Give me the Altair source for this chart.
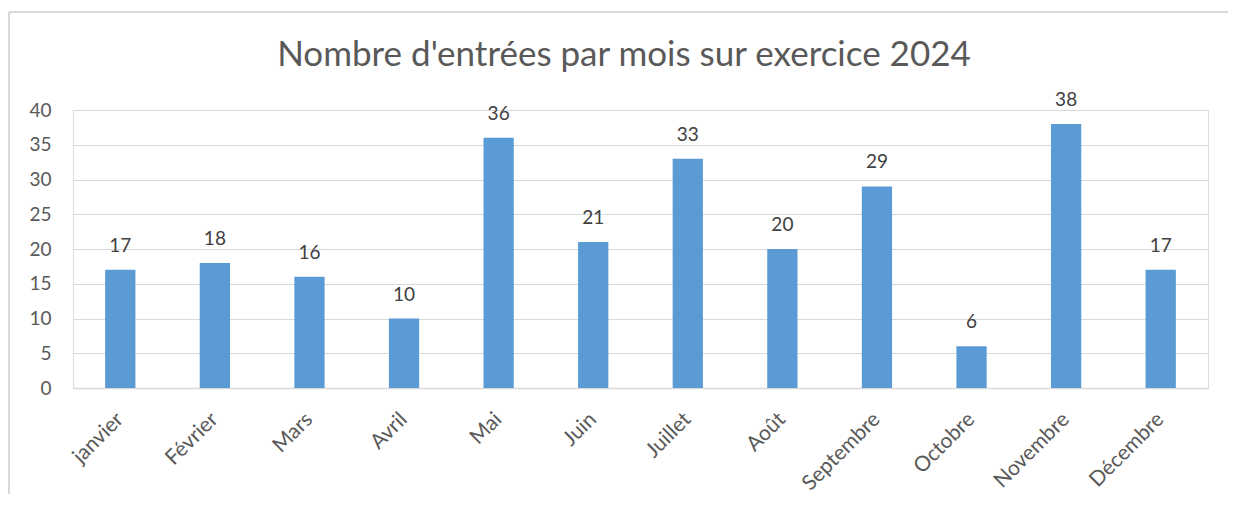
import altair as alt
import pandas as pd

months = ["janvier", "Février", "Mars", "Avril", "Mai", "Juin", "Juillet",
          "Août", "Septembre", "Octobre", "Novembre", "Décembre"]
entries = [17, 18, 16, 10, 36, 21, 33, 20, 29, 6, 38, 17]
y_ticks = [0, 5, 10, 15, 20, 25, 30, 35, 40]
title_text = "Nombre d'entrées par mois sur exercice 2024"

df = pd.DataFrame({"mois": months, "entrees": entries})

FONT = "Lato"
GREY = "#595959"
LINE = "#d9d9d9"

x_enc = alt.X("mois:N", sort=months, title=None,
              scale=alt.Scale(paddingInner=0.68, paddingOuter=0.34),
              axis=alt.Axis(labelAngle=-45, labelFontSize=21, labelColor=GREY,
                            labelFont=FONT, ticks=False, domainColor=LINE,
                            labelAlign="right", labelBaseline="middle",
                            domainWidth=1.5, labelPadding=28, grid=False))
y_enc = alt.Y("entrees:Q", title=None,
              scale=alt.Scale(domain=[0, 40], nice=False),
              axis=alt.Axis(values=y_ticks, labelFontSize=19, labelColor=GREY,
                            labelFont=FONT, ticks=False, domain=False,
                            labelOverlap=False, tickCount=9,
                            gridColor=LINE, gridWidth=1.2, labelPadding=22))

bars = alt.Chart(df).mark_bar(color="#5B9BD5").encode(x=x_enc, y=y_enc)
labels = alt.Chart(df).mark_text(baseline="bottom", dy=-14, fontSize=19,
                                 font=FONT, color="#404040").encode(
    x=alt.X("mois:N", sort=months), y=y_enc, text="entrees:Q")

top_edge = alt.Chart(df).mark_rule(stroke=LINE, strokeWidth=1.5).encode(
    x=alt.value(-64), x2=alt.value(1200), y=alt.value(-98))
left_edge = alt.Chart(df).mark_rule(stroke=LINE, strokeWidth=1.5).encode(
    x=alt.value(-64), y=alt.value(-98), y2=alt.value(600))

title = alt.Chart(pd.DataFrame({"t": [title_text]})).mark_text(
    fontSize=35, font=FONT, color=GREY, baseline="alphabetic", align="center").encode(
    x=alt.value(551), y=alt.value(-44), text="t:N")

chart = alt.layer(top_edge, left_edge, bars, labels, title).properties(
    width=1135, height=278,
    autosize=alt.AutoSizeParams(type="none"),
    padding={"left": 65, "top": 102, "right": 20, "bottom": 106},
).configure_view(strokeWidth=0).configure(background="white")

chart.save("out.html", embed_options={"renderer": "svg", "actions": False})
